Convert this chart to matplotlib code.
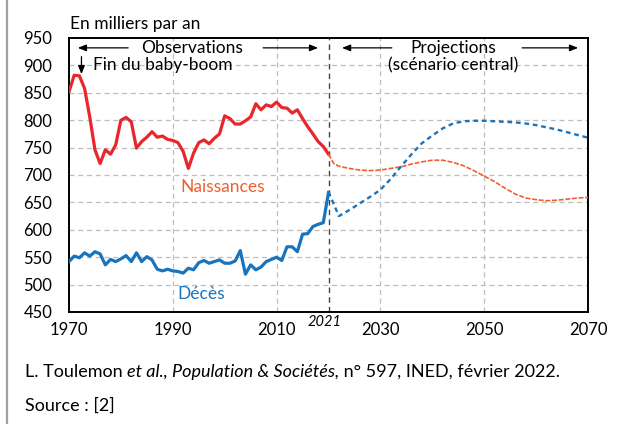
import matplotlib
matplotlib.use("Agg")
import matplotlib.pyplot as plt
from matplotlib.lines import Line2D

plt.rcParams['font.family'] = ['Lato', 'DejaVu Sans']

# Observed data
obs_years = list(range(1970, 2021))
births_obs = [852, 882, 881, 858, 806, 746, 721, 746, 738, 755,
              800, 805, 797, 749, 761, 769, 779, 769, 771, 765,
              763, 759, 743, 712, 740, 759, 764, 757, 767, 775,
              808, 803, 793, 793, 799, 806, 830, 819, 828, 825,
              833, 823, 822, 813, 819, 803, 788, 775, 761, 752,
              738]
deaths_obs = [542, 552, 549, 558, 552, 560, 556, 536, 546, 542,
              547, 553, 542, 558, 542, 551, 545, 528, 525, 528,
              525, 524, 521, 530, 527, 540, 544, 539, 542, 545,
              539, 539, 543, 562, 519, 536, 527, 532, 542, 546,
              550, 544, 569, 569, 560, 592, 593, 606, 610, 613,
              668]

# Projections (central scenario)
proj_years = [2020, 2021, 2022, 2024, 2026, 2028, 2030, 2032, 2034, 2036,
              2038, 2040, 2042, 2044, 2046, 2048, 2050, 2052, 2054, 2056,
              2058, 2060, 2062, 2064, 2066, 2068, 2070]
births_proj = [738, 721, 716, 712, 709, 708, 709, 712, 715, 720,
               724, 727, 727, 723, 717, 708, 698, 688, 676, 665,
               658, 655, 653, 654, 656, 658, 659]
deaths_proj_years = [2020, 2022, 2024, 2026, 2028, 2030, 2032, 2034, 2036, 2038,
                     2040, 2042, 2044, 2046, 2048, 2050, 2052, 2054, 2056, 2058,
                     2060, 2062, 2064, 2066, 2068, 2070]
deaths_proj = [669, 625, 636, 648, 660, 673, 693, 716, 738, 758,
               772, 785, 794, 798, 799, 799, 798, 797, 796, 794,
               791, 787, 783, 778, 773, 768]

xticks = [1970, 1990, 2010, 2030, 2050, 2070]
yticks = [450, 500, 550, 600, 650, 700, 750, 800, 850, 900, 950]

RED = '#e8262b'
ORANGE = '#f0602f'
BLUE = '#1a74bd'

fig = plt.figure(figsize=(6.2, 4.24), dpi=100)
ax = fig.add_axes([69/620, 1-312/424, 519/620, 274/424])

# grid
for y in yticks[1:-1]:
    ax.axhline(y, color='#bdbdbd', lw=0.9, dashes=(4, 3), zorder=0)
for x in [1990, 2010, 2030, 2050]:
    ax.axvline(x, color='#bdbdbd', lw=0.9, dashes=(4, 3), zorder=0)
ax.axvline(2020, color='#444444', lw=1.0, dashes=(4, 3), zorder=1)

ax.plot(obs_years, births_obs, color=RED, lw=2.3, solid_joinstyle='round', zorder=3)
ax.plot(obs_years, deaths_obs, color=BLUE, lw=2.3, solid_joinstyle='round', zorder=3)
ax.plot(proj_years, births_proj, color=ORANGE, lw=1.2, dashes=(3, 1), zorder=3)
ax.plot(deaths_proj_years, deaths_proj, color=BLUE, lw=1.7, dashes=(2, 1.6), zorder=3)

ax.set_xlim(1970, 2070)
ax.set_ylim(450, 950)
ax.set_xticks(xticks)
ax.set_yticks(yticks)
ax.tick_params(axis='both', length=0, labelsize=12, colors='black')
ax.tick_params(axis='y', pad=12)
ax.tick_params(axis='x', pad=7)
for s in ax.spines.values():
    s.set_linewidth(1.4)
    s.set_color('black')

# annotations
FS = 12.5
arrow_kw = dict(arrowstyle='-|>,head_length=0.5,head_width=0.2', color='black', lw=0.9,
                shrinkA=0, shrinkB=0)
ax.annotate('', xy=(1971.7, 932), xytext=(1981.4, 932), arrowprops=arrow_kw)
ax.annotate('', xy=(2018.0, 932), xytext=(2007.4, 932), arrowprops=arrow_kw)
ax.annotate('', xy=(2022.6, 932), xytext=(2032.2, 932), arrowprops=arrow_kw)
ax.annotate('', xy=(2068.1, 932), xytext=(2057.3, 932), arrowprops=arrow_kw)
ax.text(1993.8, 932, 'Observations', ha='center', va='center', fontsize=FS)
ax.text(2044.0, 932, 'Projections', ha='center', va='center', fontsize=FS)
ax.text(2044.1, 900, '(scénario central)', ha='center', va='center', fontsize=FS)
ax.annotate('', xy=(1972.4, 884), xytext=(1972.4, 916), arrowprops=arrow_kw)
ax.text(1974.6, 901, 'Fin du baby-boom', ha='left', va='center', fontsize=FS)
ax.text(1999.6, 678, 'Naissances', ha='center', va='center', fontsize=FS, color=ORANGE)
ax.text(1995.5, 482, 'Décès', ha='center', va='center', fontsize=FS, color=BLUE)

fig.text(70/620, 1-24/424, 'En milliers par an', ha='left', va='center', fontsize=FS)
fig.text(325/620, 1-322/424, '2021', ha='center', va='center', fontsize=10.5, style='italic')

# footer with mixed styles
renderer = fig.canvas.get_renderer()
parts = [('L. Toulemon ', 'normal'), ('et al., Population & Sociétés,', 'italic'),
         (' n° 597, INED, février 2022.', 'normal')]
xpx = 25
for s, st in parts:
    tt = fig.text(xpx/620, 1-372/424, s, ha='left', va='center', fontsize=13, style=st)
    bb = tt.get_window_extent(renderer=renderer)
    xpx += bb.width
fig.text(25/620, 1-406/424, 'Source : [2]', ha='left', va='center', fontsize=13)

fig.add_artist(Line2D([7/620, 7/620], [0, 1], transform=fig.transFigure,
                      color='#a0a0a0', lw=1.6))

fig.savefig('out.png', dpi=100)
